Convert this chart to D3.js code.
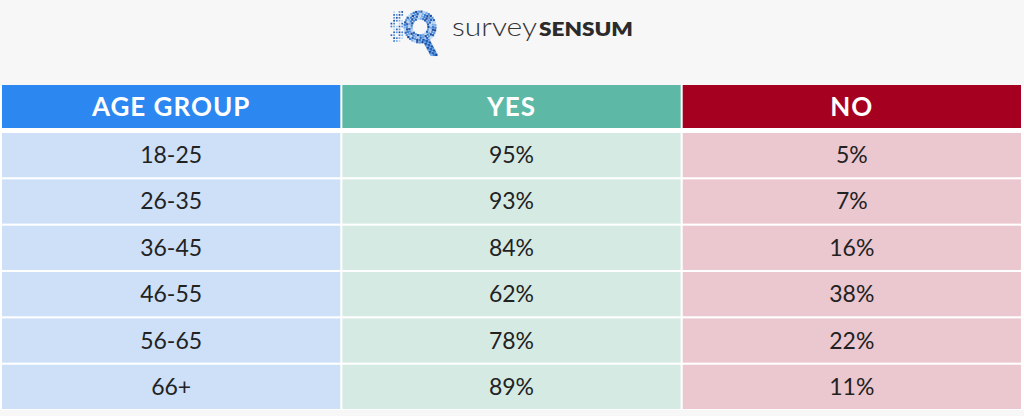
<!DOCTYPE html>
<html>
<head>
<meta charset="utf-8">
<script src="https://cdn.jsdelivr.net/npm/d3@7"></script>
<style>
  html, body { margin: 0; padding: 0; background: #f7f7f7; }
  svg { display: block; }
</style>
</head>
<body>
<div id="chart"></div>
<script>
// --- table data ---
const columns = ["AGE GROUP", "YES", "NO"];
const ageGroups = ["18-25", "26-35", "36-45", "46-55", "56-65", "66+"];
const yesValues = [95, 93, 84, 62, 78, 89];
const noValues = [5, 7, 16, 38, 22, 11];

const W = 1024, H = 416;
const headFill = ["#2c87f0", "#5db8a5", "#a5001f"];
const bodyFill = ["#cde0f8", "#d6eae4", "#ebc7cf"];

const svg = d3.select("#chart").append("svg").attr("width", W).attr("height", H);
svg.append("rect").attr("width", W).attr("height", H).attr("fill", "#f7f7f7");

const x = d3.scaleBand().domain(columns).range([2, 1021]).paddingInner(0.006);
const y = d3.scaleBand().domain(ageGroups).range([133, 409]).paddingInner(0.045);
const headTop = 85, headBot = 128;

// white backing so the gaps between cells read as white lines
svg.append("rect").attr("x", 0).attr("y", headTop).attr("width", W).attr("height", 409 - headTop + 1).attr("fill", "#ffffff");

// header
const head = svg.append("g");
head.selectAll("rect").data(columns).join("rect")
  .attr("x", d => x(d)).attr("y", headTop)
  .attr("width", x.bandwidth()).attr("height", headBot - headTop)
  .attr("fill", (d, i) => headFill[i]);
head.selectAll("text").data(columns).join("text")
  .attr("x", d => x(d) + x.bandwidth() / 2).attr("y", (headTop + headBot) / 2 + 9)
  .attr("text-anchor", "middle")
  .attr("font-family", "Lato, 'Open Sans', sans-serif").attr("font-weight", 700)
  .attr("font-size", 26).attr("letter-spacing", 1).attr("fill", "#ffffff")
  .text(d => d);

// body rows
const rows = ageGroups.map((g, i) => [g, yesValues[i] + "%", noValues[i] + "%"]);
const rowG = svg.append("g").selectAll("g").data(rows).join("g")
  .attr("transform", (d, i) => `translate(0,${y(ageGroups[i])})`);
rowG.selectAll("rect").data(d => d).join("rect")
  .attr("x", (d, j) => x(columns[j])).attr("y", 0)
  .attr("width", x.bandwidth()).attr("height", y.bandwidth())
  .attr("fill", (d, j) => bodyFill[j]);
rowG.selectAll("text").data(d => d).join("text")
  .attr("x", (d, j) => x(columns[j]) + x.bandwidth() / 2).attr("y", y.bandwidth() / 2 + 8)
  .attr("text-anchor", "middle")
  .attr("font-family", "Lato, 'Open Sans', sans-serif").attr("font-weight", 400)
  .attr("font-size", 23).attr("fill", "#222222")
  .text(d => d);

// --- logo: pixelated Q mark + wordmark ---
const logo = svg.append("g");
const blues = ["#1c4a9c", "#3b80d6", "#79ade8", "#b9d5f4", "#2a63bb", "#5b98e0"];
const cx = 420, cy = 27;
const dots = [];
// ring of the Q
d3.range(8.5, 17, 2.3).forEach((r, ri) => {
  const n = Math.round(2 * Math.PI * r / 2.6);
  d3.range(n).forEach(k => {
    const a = k / n * 2 * Math.PI + ri * 0.3;
    dots.push({ px: cx + r * Math.cos(a), py: cy + r * Math.sin(a), s: 2.3, c: blues[(k * 5 + ri * 3) % blues.length] });
  });
});
// tail of the Q
d3.range(0, 1.01, 0.09).forEach((t, k) => {
  [-2.4, 0, 2.4].forEach((o, m) => {
    dots.push({ px: 426 + t * 8 + o, py: 40 + t * 15, s: 2.4, c: blues[(k + m * 2) % 3] });
  });
});
// scattered trail to the left
d3.range(0, 7).forEach(i => {
  d3.range(0, 11).forEach(j => {
    if ((i * 3 + j * 7 + i * j) % 4 > (i < 3 ? 1 : 0)) {
      const px = 386 + i * 2.7, py = 12 + j * 2.9;
      if (Math.hypot(px - cx, py - cy) < 30) dots.push({ px, py, s: 1.7, c: blues[(i + j) % blues.length] });
    }
  });
});
logo.selectAll("rect").data(dots).join("rect")
  .attr("x", d => d.px - d.s / 2).attr("y", d => d.py - d.s / 2)
  .attr("width", d => d.s).attr("height", d => d.s)
  .attr("fill", d => d.c);

logo.append("text").attr("x", 452).attr("y", 36)
  .attr("font-family", "Lato, 'Open Sans', sans-serif").attr("font-weight", 300)
  .attr("font-size", 26).attr("fill", "#333333")
  .attr("textLength", 85).attr("lengthAdjust", "spacingAndGlyphs")
  .text("survey");
logo.append("text").attr("x", 539).attr("y", 36)
  .attr("font-family", "Lato, 'Open Sans', sans-serif").attr("font-weight", 800)
  .attr("font-size", 19).attr("fill", "#2b2b2b")
  .attr("textLength", 94).attr("lengthAdjust", "spacingAndGlyphs")
  .text("SENSUM");
</script>
</body>
</html>
